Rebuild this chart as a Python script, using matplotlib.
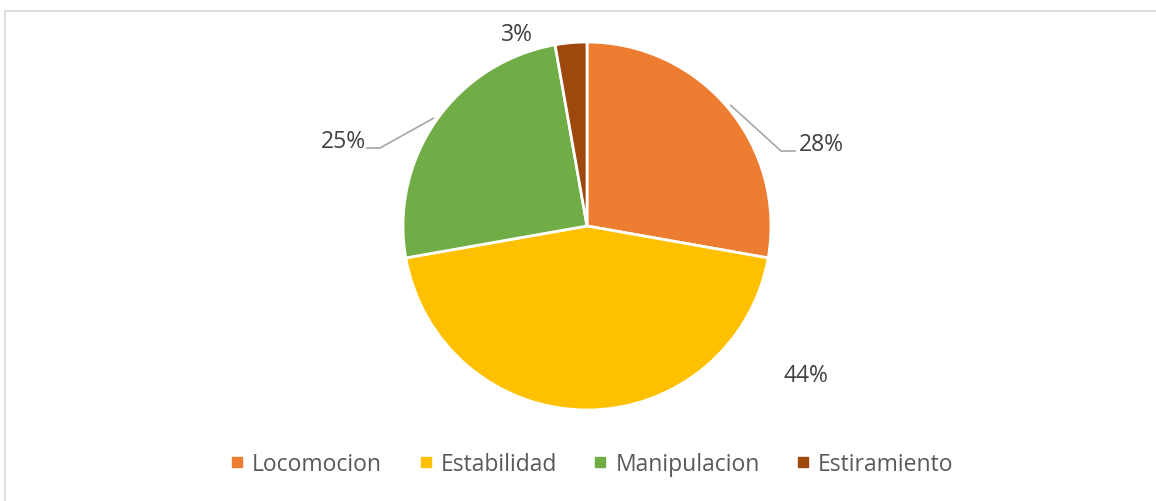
import numpy as np
import matplotlib
matplotlib.use("Agg")
import matplotlib.pyplot as plt
from matplotlib.lines import Line2D

# datos
categorias = ["Locomocion", "Estabilidad", "Manipulacion", "Estiramiento"]
cuentas = [10, 16, 9, 1]
etiquetas = ["28%", "44%", "25%", "3%"]
colores = ["#ED7D31", "#FFC000", "#70AD47", "#9E480E"]

plt.rcParams['font.family'] = ['Open Sans', 'DejaVu Sans']
texto = "#404040"

W, H = 1156, 502
fig = plt.figure(figsize=(W / 100, H / 100), dpi=100)
ax = fig.add_axes([0, 0, 1, 1])

# marco gris (solo arriba e izquierda visibles)
fig.lines.append(Line2D([5 / W, 5 / W, 1.0], [0, 1 - 12 / H, 1 - 12 / H],
                        transform=fig.transFigure, color="#D9D9D9", lw=1.2))

cx, cy, r = 587, H - 227, 184
wedges, _ = ax.pie(cuentas, colors=colores, startangle=90, counterclock=False,
                   center=(cx, cy), radius=r, frame=True,
                   wedgeprops=dict(edgecolor="white", linewidth=2))
ax.set_xlim(0, W)
ax.set_ylim(0, H)
ax.set_aspect('equal')
ax.set_axis_off()

# posiciones de etiquetas (pixeles)
pos_lab = [(821, H - 145), (806, H - 376), (343, H - 142), (517, H - 35)]
codo = [(781, H - 152), None, (380, H - 149), None]
fin = [(795, H - 152), None, (367, H - 149), None]

for i, w in enumerate(wedges):
    ax.text(pos_lab[i][0], pos_lab[i][1], etiquetas[i], ha='center', va='center',
            fontsize=16.5, color=texto)
    if codo[i] is not None:
        ang = np.deg2rad((w.theta1 + w.theta2) / 2)
        x0 = cx + r * 1.02 * np.cos(ang)
        y0 = cy + r * 1.02 * np.sin(ang)
        ax.plot([x0, codo[i][0], fin[i][0]], [y0, codo[i][1], fin[i][1]],
                color="#A6A6A6", lw=1.2)

handles = [Line2D([], [], marker='s', linestyle='none', markersize=7.5,
                  markerfacecolor=c, markeredgecolor=c) for c in colores]
fig.legend(handles, categorias, loc='center', bbox_to_anchor=(592 / W, 1 - 465 / H),
           ncol=4, frameon=False, fontsize=16.5, labelcolor="#595959",
           handlelength=0.6, handletextpad=0.35, columnspacing=1.6)

fig.savefig("out.png", dpi=100, facecolor="white")
